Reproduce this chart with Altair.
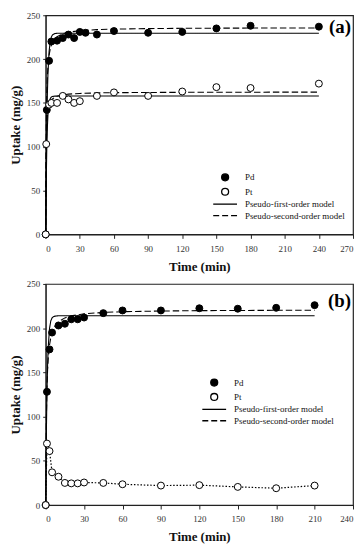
import altair as alt
import pandas as pd

FONT = "Liberation Serif"
SERIES = ["Pd", "Pt", "Pseudo-first-order model", "Pseudo-second-order model"]
MODELS = ["Pseudo-first-order model", "Pseudo-second-order model"]

# ---------------- Panel (a) ----------------
a_pd_t = [0, 1, 3, 5, 10, 15, 20, 25, 30, 35, 45, 60, 90, 120, 150, 180, 240]
a_pd_q = [0, 142, 198, 220, 221, 224, 228, 224, 231, 230, 228, 232, 230, 231, 235, 238, 237]
a_pt_t = [0, 0.5, 3, 5, 10, 15, 20, 25, 30, 45, 60, 90, 120, 150, 180, 240]
a_pt_q = [0, 103, 148, 150, 150, 158, 154, 150, 152, 158, 162, 158, 163, 168, 167, 172]

a_curve_t = [0, 0.5, 1, 1.5, 2, 3, 4, 5, 6, 8, 10, 15, 20, 30, 45, 60, 90, 120, 150, 180, 210, 240]
a_pd_pfo = [0, 75.7, 126.4, 160.4, 183.2, 208.7, 220.1, 225.3, 227.6, 229.1, 229.4, 229.5, 229.5,
            229.5, 229.5, 229.5, 229.5, 229.5, 229.5, 229.5, 229.5, 229.5]
a_pd_pso = [0, 122.5, 161.3, 180.3, 191.6, 204.4, 211.5, 216.0, 219.1, 223.1, 225.6, 228.9, 230.7,
            232.4, 233.6, 234.2, 234.8, 235.1, 235.3, 235.4, 235.5, 235.5]
a_pt_pfo = [0, 62.1, 99.7, 122.6, 136.4, 149.9, 154.9, 156.7, 157.4, 157.7, 157.8, 157.8, 157.8,
            157.8, 157.8, 157.8, 157.8, 157.8, 157.8, 157.8, 157.8, 157.8]
a_pt_pso = [0, 100.2, 124.0, 134.6, 140.7, 147.3, 150.8, 153.0, 154.5, 156.4, 157.6, 159.2, 160.0,
            160.8, 161.4, 161.7, 161.9, 162.1, 162.2, 162.2, 162.3, 162.3]

# ---------------- Panel (b) ----------------
b_t = [0, 1, 3, 5, 10, 15, 20, 25, 30, 45, 60, 90, 120, 150, 180, 210]
b_pd_q = [0, 128, 176, 195, 203, 205, 210, 210, 212, 217, 220, 220, 222.5, 222, 223, 226]
b_pt_q = [0, 69.5, 61, 37, 32, 25, 24.5, 24.5, 25.5, 25, 23.5, 22, 22.5, 20.5, 19, 22]

b_curve_t = [0, 0.5, 1, 1.5, 2, 3, 4, 5, 6, 8, 10, 15, 20, 30, 45, 60, 90, 120, 150, 180, 210]
b_pd_pfo = [0, 77.6, 127.0, 158.5, 178.6, 199.6, 208.2, 211.6, 213.0, 213.8, 214, 214, 214,
            214, 214, 214, 214, 214, 214, 214, 214]
b_pd_pso = [0, 94.7, 132.6, 153.0, 165.8, 180.8, 189.4, 195.0, 198.9, 204.0, 207.2, 211.6, 213.9,
            216.2, 217.8, 218.6, 219.4, 219.8, 220.0, 220.2, 220.3]

SOLID = "M-3.43,0L3.43,0"
DASHED = "M-3.43,0L-1.71,0M-0.86,0L0.86,0M1.71,0L3.43,0"


def points_df(pd_t, pd_q, pt_t, pt_q):
    rows = [{"t": t, "q": q, "series": "Pd"} for t, q in zip(pd_t, pd_q)]
    rows += [{"t": t, "q": q, "series": "Pt"} for t, q in zip(pt_t, pt_q)]
    return pd.DataFrame(rows)


def curves_df(curves):
    rows = []
    for metal, model, ts, qs in curves:
        for t, q in zip(ts, qs):
            rows.append({"t": t, "q": q, "metal": metal, "model": model})
    return pd.DataFrame(rows)


def panel(pts, curves, xmax, label, label_y, h, lx, ly, dotted=None):
    xenc = alt.X("t:Q", scale=alt.Scale(domain=[0, xmax], nice=False),
                 axis=alt.Axis(values=list(range(0, xmax + 1, 30)), title="Time (min)"))
    yenc = alt.Y("q:Q", scale=alt.Scale(domain=[0, 250], nice=False),
                 axis=alt.Axis(values=[0, 50, 100, 150, 200, 250], title="Uptake (mg/g)"))
    leg = alt.Legend(
        title=None, orient="none", legendX=lx, legendY=ly, padding=0,
        labelFont=FONT, labelFontSize=9, labelColor="#111", labelOffset=15.5,
        symbolSize=49, rowPadding=1.5, labelLimit=300, symbolStrokeWidth=1.3,
        symbolStrokeColor="black", symbolOpacity=1,
    )
    lines = alt.Chart(curves).mark_line(color="black", strokeWidth=1.1).encode(
        x=xenc, y=yenc, detail="metal:N",
        strokeDash=alt.StrokeDash("model:N", scale=alt.Scale(domain=MODELS, range=[[1, 0], [6.5, 3]]),
                                  legend=None),
    )
    layers = [lines]
    if dotted is not None:
        dot = alt.Chart(dotted).mark_line(color="black", strokeWidth=1.2, strokeDash=[1.5, 1.8]).encode(
            x=xenc, y=yenc)
        layers.append(dot)
    pts_layer = alt.Chart(pts).mark_point(filled=True, size=49, strokeWidth=1, opacity=1).encode(
        x=xenc, y=yenc,
        shape=alt.Shape("series:N", scale=alt.Scale(domain=SERIES, range=["circle", "circle", SOLID, DASHED]),
                        legend=leg),
        fill=alt.Fill("series:N", scale=alt.Scale(domain=SERIES, range=["black", "white", "white", "white"]),
                      legend=leg),
        stroke=alt.Stroke("series:N", scale=alt.Scale(domain=SERIES, range=["black", "black", "black", "black"]),
                          legend=leg),
        order=alt.Order("series:N"),
    )
    layers.append(pts_layer)
    lab = alt.Chart(pd.DataFrame({"label": [label]})).mark_text(
        font=FONT, fontSize=19, fontWeight="bold", align="right", baseline="middle", color="black"
    ).encode(text="label:N", x=alt.value(308), y=alt.value(label_y))
    layers.append(lab)
    return alt.layer(*layers).properties(width=310, height=h)


pa = panel(points_df(a_pd_t, a_pd_q, a_pt_t, a_pt_q),
           curves_df([("Pd", MODELS[0], a_curve_t, a_pd_pfo), ("Pd", MODELS[1], a_curve_t, a_pd_pso),
                      ("Pt", MODELS[0], a_curve_t, a_pt_pfo), ("Pt", MODELS[1], a_curve_t, a_pt_pso)]),
           270, "(a)", 12, 221, 176.5, 159)

b_pts = points_df(b_t, b_pd_q, b_t, b_pt_q)
pb = panel(b_pts,
           curves_df([("Pd", MODELS[0], b_curve_t, b_pd_pfo), ("Pd", MODELS[1], b_curve_t, b_pd_pso)]),
           240, "(b)", 17, 223, 165.5, 95,
           dotted=pd.DataFrame({"t": b_t, "q": b_pt_q}))

chart = alt.vconcat(pa, pb, spacing=5).resolve_scale(
    shape="independent", fill="independent", stroke="independent", strokeDash="independent",
    x="independent", y="independent"
).resolve_legend(shape="independent", fill="independent", stroke="independent").properties(
    padding=0
).configure_view(stroke="#222", strokeWidth=1.2).configure_axis(
    labelFont=FONT, labelFontSize=9, labelColor="#333", titleFont=FONT, titleFontSize=13,
    titleFontWeight="bold", titleColor="#111", domainColor="#222", tickColor="#222", grid=False,
).configure_axisY(tickSize=3, labelPadding=3, titlePadding=4).configure_axisX(
    tickSize=4, labelPadding=6, titlePadding=7)

chart.save("out.html", embed_options={"renderer": "svg", "actions": False})
